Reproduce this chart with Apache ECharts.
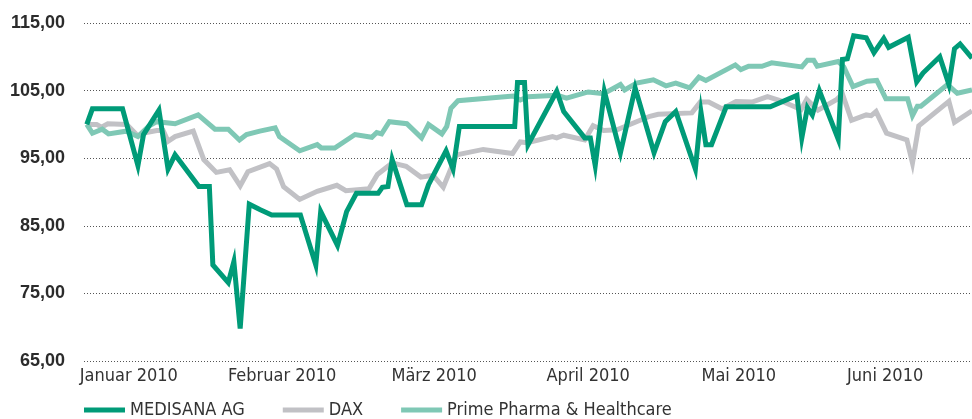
<!DOCTYPE html>
<html>
<head>
<meta charset="utf-8">
<script src="https://cdn.jsdelivr.net/npm/echarts@6/dist/echarts.min.js"></script>
<style>
  html, body { margin: 0; padding: 0; background: #fff; }
  #chart { width: 972px; height: 419px; }
</style>
</head>
<body>
<div id="chart"></div>
<script>
// trading-day index vs. indexed value (start = 100)
const medisana = [
  [0, 100.0], [0.8, 102.3], [5.1, 102.3], [7.3, 93.9], [8.1, 98.5], [10.3, 102.1],
  [11.6, 93.4], [12.6, 95.5], [16.0, 90.8], [17.5, 90.8], [18.0, 79.2], [20.2, 76.6],
  [21.0, 79.7], [21.9, 69.8], [23.2, 88.2], [24.7, 87.4], [26.4, 86.6], [30.5, 86.6],
  [32.7, 79.2], [33.4, 87.1], [35.8, 82.1], [37.1, 87.1], [38.5, 89.8], [41.6, 89.8],
  [42.2, 90.7], [43.0, 90.8], [43.6, 94.8], [45.7, 88.1], [47.8, 88.1], [48.8, 91.1],
  [51.3, 96.1], [52.3, 93.4], [53.2, 99.7], [61.1, 99.7], [61.5, 106.2], [62.5, 106.2],
  [63.0, 97.0], [67.1, 104.9], [68.1, 101.9], [71.1, 98.0], [71.9, 98.0], [72.6, 93.9],
  [73.9, 104.9], [76.2, 95.8], [78.3, 105.4], [81.0, 95.8], [82.6, 100.4], [84.1, 101.9],
  [86.9, 93.4], [87.7, 101.8], [88.4, 97.0], [89.2, 97.0], [91.3, 102.6], [97.6, 102.6],
  [101.4, 104.3], [102.1, 98.0], [102.9, 102.5], [103.6, 101.4], [104.6, 105.0], [107.3, 97.8],
  [107.9, 109.6], [108.6, 109.7], [109.5, 113.1], [111.3, 112.8], [112.4, 110.6], [113.8, 112.7],
  [114.5, 111.4], [117.3, 112.9], [118.5, 106.3], [119.4, 107.6], [121.8, 110.0], [123.1, 105.9],
  [123.9, 111.2], [124.7, 111.9], [126.4, 109.8]
];

const dax = [
  [0, 100.0], [1.4, 100.0], [2.1, 99.6], [3.0, 100.1], [5.7, 100.0], [7.3, 98.3],
  [8.5, 98.8], [10.0, 99.1], [10.9, 99.1], [11.6, 97.5], [12.6, 98.2], [15.2, 99.0],
  [16.7, 94.8], [18.5, 92.9], [20.4, 93.3], [21.9, 90.9], [23.0, 93.0], [26.1, 94.2],
  [27.1, 93.4], [28.1, 90.8], [30.4, 88.9], [32.9, 90.1], [35.7, 91.0], [37.0, 90.2],
  [40.3, 90.5], [41.5, 92.6], [43.6, 94.3], [45.6, 93.8], [47.7, 92.2], [49.0, 92.4],
  [49.6, 92.3], [50.9, 90.7], [52.8, 95.5], [56.6, 96.3], [60.8, 95.7], [61.9, 97.4],
  [62.9, 97.3], [66.5, 98.2], [67.1, 98.0], [68.1, 98.4], [71.1, 97.7], [72.3, 99.8],
  [73.8, 99.1], [75.7, 99.2], [77.8, 100.1], [80.4, 101.2], [81.6, 101.5], [86.4, 101.7],
  [87.6, 103.3], [88.8, 103.3], [90.7, 102.3], [92.7, 103.4], [95.0, 103.3], [97.2, 104.1],
  [99.1, 103.5], [102.0, 102.2], [102.8, 103.7], [104.4, 102.1], [107.1, 103.7], [107.9, 104.5],
  [109.2, 100.6], [111.3, 101.4], [112.0, 101.3], [112.7, 101.9], [114.2, 98.7], [117.1, 97.7],
  [117.9, 94.3], [118.8, 99.8], [123.1, 103.4], [123.9, 100.3], [126.4, 102.0]
];

const prime = [
  [0, 100.0], [0.8, 98.7], [2.2, 99.3], [3.1, 98.6], [5.6, 99.0], [7.3, 98.2],
  [8.8, 99.7], [10.0, 100.4], [12.6, 100.1], [15.9, 101.4], [18.3, 99.3], [20.2, 99.3],
  [21.8, 97.7], [22.8, 98.5], [24.7, 99.0], [26.9, 99.5], [27.5, 98.2], [30.4, 96.1],
  [32.9, 97.0], [33.5, 96.5], [35.4, 96.5], [38.3, 98.5], [40.7, 98.1], [41.4, 98.8],
  [42.1, 98.6], [43.2, 100.4], [45.7, 100.1], [47.8, 98.0], [48.8, 100.0], [50.7, 98.6],
  [51.4, 99.7], [52.0, 102.4], [53.0, 103.5], [60.9, 104.2], [61.9, 103.6], [63.0, 104.1],
  [67.2, 104.3], [68.5, 103.9], [71.6, 104.8], [73.8, 104.55], [76.2, 105.9], [76.8, 105.1],
  [78.5, 106.1], [80.9, 106.6], [82.7, 105.7], [84.1, 106.1], [86.1, 105.4], [87.4, 107.0],
  [88.4, 106.5], [92.6, 108.8], [93.4, 108.1], [94.5, 108.6], [96.4, 108.6], [97.8, 109.1],
  [102.1, 108.5], [102.9, 109.5], [103.8, 109.5], [104.3, 108.6], [107.3, 109.3], [108.1, 108.5],
  [109.4, 105.6], [111.4, 106.4], [112.8, 106.5], [114.1, 103.8], [117.2, 103.8], [117.9, 101.3],
  [118.6, 102.7], [119.1, 102.7], [122.9, 105.9], [124.3, 104.6], [126.4, 105.1]
];

const monthTicks = [6, 27.9, 49.6, 71.6, 93.1, 114];
const monthNames = ["Januar 2010", "Februar 2010", "März 2010", "April 2010", "Mai 2010", "Juni 2010"];

const seriesNames = ["MEDISANA AG", "DAX", "Prime Pharma & Healthcare"];
const colors = { "MEDISANA AG": "#009b78", "DAX": "#c1c1c5", "Prime Pharma & Healthcare": "#7fc8b5" };

const narrow = "'DejaVu Sans Condensed', 'Liberation Sans Narrow', sans-serif";

const chart = echarts.init(document.getElementById("chart"), null, { renderer: "canvas" });

function line(name, data, z) {
  return {
    name: name,
    type: "line",
    data: data,
    z: z,
    showSymbol: false,
    symbol: "none",
    color: colors[name],
    lineStyle: { width: 5, color: colors[name], join: "miter", cap: "butt" },
  };
}

chart.setOption({
  animation: false,
  backgroundColor: "#fff",
  grid: { left: 84, right: 0, top: 23, bottom: 58 },
  legend: {
    data: seriesNames,
    left: 84,
    top: 401,
    padding: 0,
    icon: "rect",
    itemWidth: 41,
    itemHeight: 5,
    itemGap: 38,
    textStyle: { color: "#333", fontSize: 18, fontFamily: narrow },
  },
  xAxis: {
    type: "value",
    min: -0.4,
    max: 126.4,
    axisLine: { show: false },
    axisTick: { show: false },
    splitLine: { show: false },
    axisLabel: {
      customValues: monthTicks,
      color: "#333",
      fontSize: 18,
      fontFamily: narrow,
      margin: 6,
      formatter: (v) => monthNames[monthTicks.indexOf(v)] || "",
    },
  },
  yAxis: {
    type: "value",
    min: 65,
    max: 115,
    interval: 10,
    axisLine: { show: false },
    axisTick: { show: false },
    splitLine: { lineStyle: { color: "#555", width: 1, type: [1, 2] } },
    axisLabel: {
      color: "#2b2b2b",
      fontSize: 18,
      fontWeight: "bold",
      fontFamily: "'Liberation Sans', Arial, sans-serif",
      margin: 19,
      formatter: (v) => v.toFixed(2).replace(".", ","),
    },
  },
  series: [
    line("DAX", dax, 2),
    line("Prime Pharma & Healthcare", prime, 3),
    line("MEDISANA AG", medisana, 4),
  ],
});
</script>
</body>
</html>
